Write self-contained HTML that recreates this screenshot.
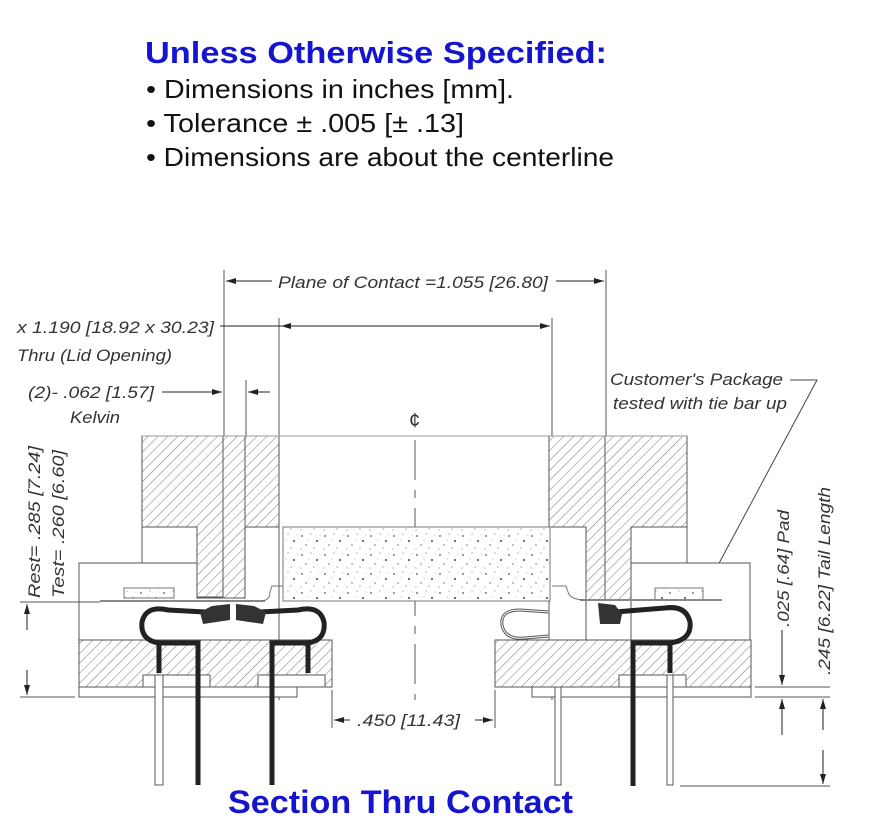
<!DOCTYPE html>
<html><head><meta charset="utf-8"><style>
html,body{margin:0;padding:0;background:#fff;}
svg{display:block;}
</style></head><body>
<svg width="869" height="835" viewBox="0 0 869 835" xmlns="http://www.w3.org/2000/svg">
<defs>
<pattern id="h" patternUnits="userSpaceOnUse" width="7" height="7" patternTransform="rotate(45)">
<rect width="7" height="7" fill="#fff"/><line x1="0" y1="0" x2="0" y2="7" stroke="#777" stroke-width="1"/>
</pattern>
<pattern id="sp" patternUnits="userSpaceOnUse" width="23" height="19">
<rect width="23" height="19" fill="#fff"/>
<circle cx="3" cy="4" r="0.9" fill="#555"/><circle cx="12" cy="2" r="0.6" fill="#888"/><circle cx="18" cy="9" r="1" fill="#444"/>
<circle cx="7" cy="13" r="0.7" fill="#666"/><circle cx="15" cy="16" r="0.6" fill="#777"/><circle cx="21" cy="3" r="0.5" fill="#999"/>
<circle cx="10" cy="8" r="0.5" fill="#999"/><circle cx="2" cy="17" r="0.6" fill="#888"/>
</pattern>
<marker id="a" markerWidth="10" markerHeight="6" refX="10" refY="3" orient="auto" markerUnits="userSpaceOnUse"><path d="M0,0 L10,3 L0,6z" fill="#222"/></marker>
</defs>

<g font-family="Liberation Sans, Arial, sans-serif">
<text x="145" y="63" font-size="31" font-weight="bold" fill="#1515d0" textLength="462" lengthAdjust="spacingAndGlyphs">Unless Otherwise Specified:</text>
<text x="146" y="98" font-size="26" fill="#111" textLength="368" lengthAdjust="spacingAndGlyphs">• Dimensions in inches [mm].</text>
<text x="146" y="132" font-size="26" fill="#111" textLength="318" lengthAdjust="spacingAndGlyphs">• Tolerance ± .005 [± .13]</text>
<text x="146" y="166" font-size="26" fill="#111" textLength="468" lengthAdjust="spacingAndGlyphs">• Dimensions are about the centerline</text>
<text x="228" y="813" font-size="32" font-weight="bold" fill="#1515d0" textLength="345" lengthAdjust="spacingAndGlyphs">Section Thru Contact</text>
</g>

<g stroke="#555" stroke-width="1" fill="none">
<line x1="224" y1="270" x2="224" y2="600"/>
<line x1="606" y1="270" x2="606" y2="600"/>
<line x1="279" y1="318" x2="279" y2="700"/>
<line x1="552" y1="318" x2="552" y2="700"/>
<line x1="246" y1="380" x2="246" y2="600"/>
<line x1="415" y1="440" x2="415" y2="700" stroke-dasharray="40,10,8,10"/>
<line x1="272" y1="281" x2="226" y2="281" marker-end="url(#a)" stroke="#222"/>
<line x1="556" y1="281" x2="604" y2="281" marker-end="url(#a)" stroke="#222"/>
<line x1="220" y1="326" x2="550" y2="326" stroke="#222"/>
<line x1="300" y1="326" x2="281" y2="326" marker-end="url(#a)" stroke="#222"/>
<line x1="530" y1="326" x2="550" y2="326" marker-end="url(#a)" stroke="#222"/>
<line x1="162" y1="392" x2="222" y2="392" marker-end="url(#a)" stroke="#222"/>
<line x1="270" y1="392" x2="248" y2="392" marker-end="url(#a)" stroke="#222"/>
<polyline points="790,380 817,380 709,582" stroke="#444"/>
</g>
<path d="M709,582 L704,568 L714,572z" fill="#222"/>

<path d="M142,436 H279 V527 H245 V597 H197 V527 H142Z" fill="url(#h)" stroke="#555"/>
<rect x="223" y="436" width="22" height="162" fill="url(#h)" stroke="#555"/>
<path d="M549,436 H687 V527 H631 V600 H586 V527 H549Z" fill="url(#h)" stroke="#555"/>
<line x1="605" y1="436" x2="605" y2="600" stroke="#555"/>
<line x1="142" y1="436" x2="687" y2="436" stroke="#999"/>
<g fill="#fff" stroke="#555">
<rect x="142" y="527" width="55" height="36"/>
<path d="M79,563 H197 V598 H245 V527 H279 V640 H79Z"/>
<rect x="549" y="527" width="37" height="113"/>
<rect x="631" y="527" width="56" height="36"/>
<path d="M631,563 H750 V640 H631Z"/>
</g>
<rect x="283" y="527" width="267" height="74" fill="url(#sp)" stroke="#777"/>
<rect x="124" y="588" width="50" height="10" fill="url(#sp)" stroke="#777"/>
<rect x="655" y="588" width="48" height="12" fill="url(#sp)" stroke="#777"/>
<line x1="100" y1="601" x2="265" y2="601" stroke="#888" stroke-width="2"/>
<path d="M262,601 Q270,600 270,592 L272,586 L283,586" fill="none" stroke="#777"/>
<line x1="580" y1="600" x2="722" y2="600" stroke="#888" stroke-width="2"/>
<path d="M586,600 Q570,600 568,592 L566,586 L552,586" fill="none" stroke="#777"/>

<rect x="79" y="640" width="253" height="47" fill="url(#h)" stroke="#555"/>
<rect x="79" y="687" width="218" height="10" fill="#fff" stroke="#555"/>
<rect x="143" y="675" width="67" height="12" fill="#fff" stroke="#555"/>
<rect x="258" y="675" width="67" height="12" fill="#fff" stroke="#555"/>
<rect x="495" y="640" width="256" height="47" fill="url(#h)" stroke="#555"/>
<rect x="532" y="687" width="219" height="10" fill="#fff" stroke="#555"/>
<rect x="619" y="675" width="67" height="12" fill="#fff" stroke="#555"/>

<g fill="#fff" stroke="#555">
<rect x="155" y="675" width="8" height="110"/>
<rect x="555" y="687" width="6" height="98"/>
<rect x="667" y="675" width="6" height="110"/>
</g>
<g fill="none" stroke="#222" stroke-width="5">
<path d="M198,785 V643 H159 V673"/>
<path d="M159,643 Q140,640 142,622 Q146,605 168,610 L205,612"/>
<path d="M272,785 V643 H308 V673"/>
<path d="M308,643 Q326,640 324,622 Q320,605 298,610 L260,612"/>
<path d="M633,786 V643 H670 V673"/>
<path d="M670,643 Q692,640 690,622 Q686,605 665,608 L615,612"/>
</g>
<path d="M230,604 L212,606 L200,612 L203,624 L230,620Z" fill="#333"/>
<path d="M236,604 L254,606 L266,612 L263,624 L236,620Z" fill="#333"/>
<path d="M598,603 L615,605 L622,614 L620,624 L600,624Z" fill="#333"/>
<path d="M549,612 L520,610 Q500,610 502,625 Q505,640 525,638 L549,636" fill="none" stroke="#555" stroke-width="3"/>
<path d="M549,612 L520,610 Q500,610 502,625 Q505,640 525,638 L549,636" fill="none" stroke="#fff" stroke-width="1"/>

<g stroke="#555" fill="none">
<line x1="332" y1="690" x2="332" y2="728"/>
<line x1="495" y1="690" x2="495" y2="728"/>
<line x1="20" y1="602" x2="100" y2="602"/>
<line x1="20" y1="697" x2="75" y2="697"/>
<line x1="755" y1="687" x2="830" y2="687"/>
<line x1="755" y1="697" x2="830" y2="697"/>
<line x1="680" y1="786" x2="830" y2="786"/>
</g>
<g stroke="#222" fill="none">
<line x1="350" y1="720" x2="334" y2="720" marker-end="url(#a)"/>
<line x1="475" y1="720" x2="493" y2="720" marker-end="url(#a)"/>
<line x1="27" y1="630" x2="27" y2="604" marker-end="url(#a)"/>
<line x1="27" y1="670" x2="27" y2="695" marker-end="url(#a)"/>
<line x1="782" y1="630" x2="782" y2="685" marker-end="url(#a)"/>
<line x1="782" y1="735" x2="782" y2="699" marker-end="url(#a)"/>
<line x1="823" y1="730" x2="823" y2="699" marker-end="url(#a)"/>
<line x1="823" y1="750" x2="823" y2="784" marker-end="url(#a)"/>
</g>

<g font-family="Liberation Sans, Arial, sans-serif" font-style="italic" font-size="17" fill="#333" lengthAdjust="spacingAndGlyphs">
<text x="278" y="288" textLength="270" lengthAdjust="spacingAndGlyphs">Plane of Contact =1.055 [26.80]</text>
<text x="17" y="333" textLength="197" lengthAdjust="spacingAndGlyphs">x 1.190  [18.92 x 30.23]</text>
<text x="17" y="361" textLength="155" lengthAdjust="spacingAndGlyphs">Thru (Lid Opening)</text>
<text x="28" y="398" textLength="126" lengthAdjust="spacingAndGlyphs">(2)- .062 [1.57]</text>
<text x="70" y="423" textLength="50" lengthAdjust="spacingAndGlyphs">Kelvin</text>
<text x="610" y="385" textLength="173" lengthAdjust="spacingAndGlyphs">Customer's Package</text>
<text x="613" y="409" textLength="174" lengthAdjust="spacingAndGlyphs">tested with tie bar up</text>
<text x="357" y="726" textLength="103" lengthAdjust="spacingAndGlyphs">.450 [11.43]</text>
<text x="409" y="427" font-style="normal" font-size="20">¢</text>
<text transform="translate(40,598) rotate(-90)" textLength="152" lengthAdjust="spacingAndGlyphs">Rest= .285 [7.24]</text>
<text transform="translate(64,598) rotate(-90)" textLength="148" lengthAdjust="spacingAndGlyphs">Test= .260 [6.60]</text>
<text transform="translate(789,627) rotate(-90)" textLength="117" lengthAdjust="spacingAndGlyphs">.025 [.64] Pad</text>
<text transform="translate(830,675) rotate(-90)" textLength="188" lengthAdjust="spacingAndGlyphs">.245 [6.22] Tail Length</text>
</g>
</svg>
</body></html>
